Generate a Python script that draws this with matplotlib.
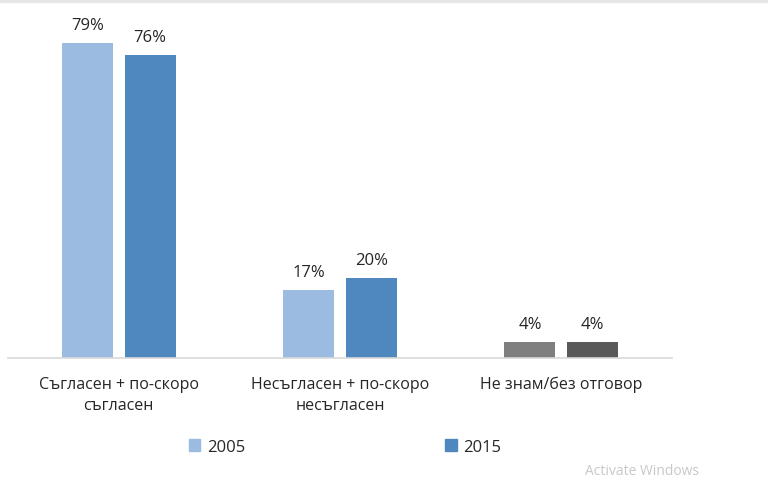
import numpy as np
import matplotlib.pyplot as plt
from matplotlib.patches import Patch

categories = ['Съгласен + по-скоро\nсъгласен', 'Несъгласен + по-скоро\nнесъгласен', 'Не знам/без отговор']
years = ['2005', '2015']
vals_2005 = [79, 17, 4]
vals_2015 = [76, 20, 4]

colors_2005 = ['#9BBBE0', '#9BBBE0', '#7F7F7F']
colors_2015 = ['#4F88BE', '#4F88BE', '#595959']

plt.rcParams['font.family'] = ['Open Sans', 'DejaVu Sans']

fig = plt.figure(figsize=(7.68, 4.85), dpi=100)
ax = fig.add_axes([8/768, 126/485, 664/768, 351/485])

x = np.arange(len(categories))
w = 0.23
off = 0.142
b1 = ax.bar(x - off, vals_2005, w, color=colors_2005)
b2 = ax.bar(x + off, vals_2015, w, color=colors_2015)

for bars, vals in [(b1, vals_2005), (b2, vals_2015)]:
    for b, v in zip(bars, vals):
        ax.text(b.get_x() + b.get_width()/2, v + 2.5, f'{v}%', ha='center', va='bottom',
                fontsize=12, color='#262626')

ax.set_xlim(-0.5, 2.5)
ax.set_ylim(0, 88)
ax.set_xticks(x)
ax.set_xticklabels(categories, fontsize=11.5, color='#262626', linespacing=1.45)
ax.tick_params(axis='x', length=0, pad=13)
ax.set_yticks([])
for s in ['top', 'right', 'left']:
    ax.spines[s].set_visible(False)
ax.spines['bottom'].set_color('#D9D9D9')
ax.spines['bottom'].set_linewidth(1.2)

handles = [Patch(color='#9BBBE0'), Patch(color='#4F88BE')]
fig.legend(handles, years, loc='center', bbox_to_anchor=(345/768, 1 - 448/485), ncol=2,
           frameon=False, fontsize=12, handlelength=0.7, handleheight=0.7,
           columnspacing=12, handletextpad=0.4, labelcolor='#262626')

# faint shadow at the top edge of the screenshot
fig.add_artist(plt.Line2D([0, 1], [0.996, 0.996], color='#E6E6E6', lw=3, transform=fig.transFigure))
fig.text(585/768, 1 - 472/485, 'Activate Windows', fontsize=10, color='#C8C8C8', va='center')

fig.savefig('out.png', dpi=100)
